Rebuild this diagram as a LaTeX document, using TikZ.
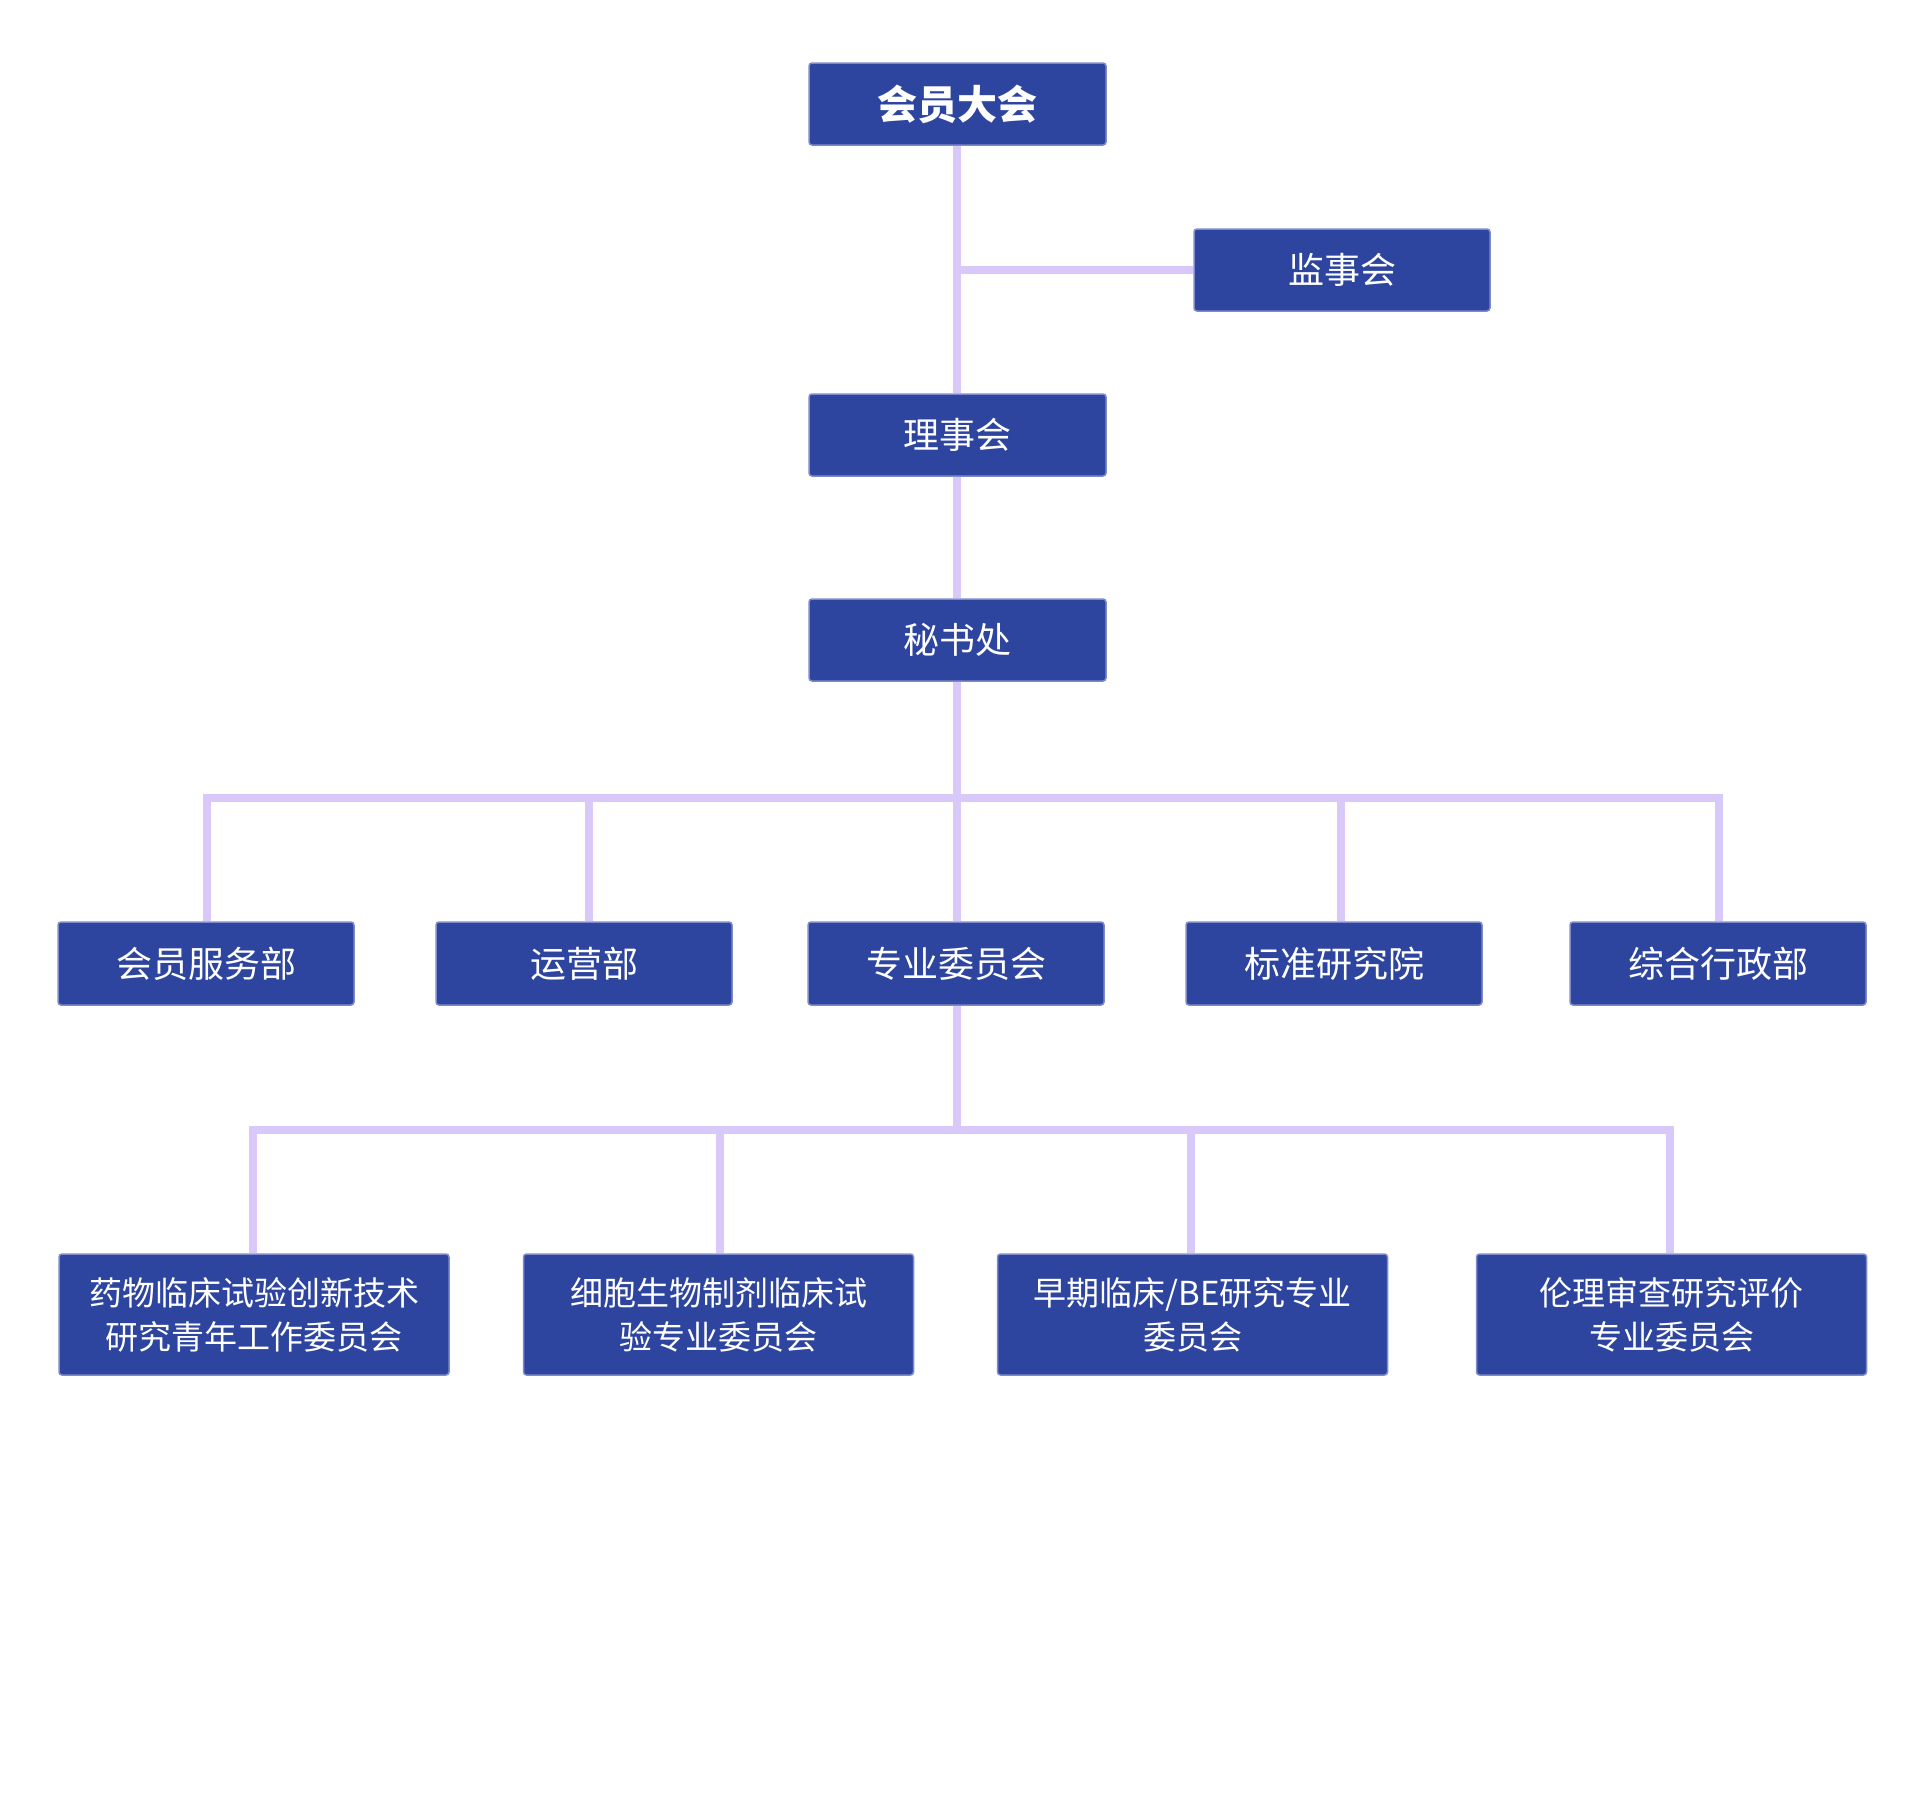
\documentclass[tikz,border=0pt]{standalone}
\usepackage{fontspec}
\setmainfont{Noto Sans CJK SC}
\definecolor{boxblue}{HTML}{2E45A0}
\definecolor{boxedge}{HTML}{7F8BC9}
\definecolor{linkc}{HTML}{D9C8FA}
\tikzset{
  orgbox/.style={draw=boxedge, line width=1.5pt, fill=boxblue, rounded corners=3pt,
    text=white, align=center, inner sep=0pt, font=\fontsize{36}{44}\selectfont},
  midbox/.style={orgbox, minimum width=296pt, minimum height=82pt},
  lowbox/.style={orgbox, minimum width=390pt, minimum height=121pt, font=\fontsize{33}{44}\selectfont},
  link/.style={draw=linkc, line width=7.5pt, line join=miter}
}
\begin{document}
\begin{tikzpicture}[x=1pt,y=-1pt]
\useasboundingbox (0,0) rectangle (1920,1792);
% nodes
\node[midbox, minimum width=297pt, font=\fontsize{40}{44}\selectfont\bfseries] (top) at (957.5,104) {会员大会};
\node[midbox] (jsh) at (1342,270) {监事会};
\node[midbox, minimum width=297pt] (lsh) at (957.5,435) {理事会};
\node[midbox, minimum width=297pt] (msc) at (957.5,640) {秘书处};
\node[midbox, minimum height=83pt] (hyfw) at (206,963.5) {会员服务部};
\node[midbox, minimum height=83pt] (yyb) at (584,963.5) {运营部};
\node[midbox, minimum height=83pt] (zywyh) at (956,963.5) {专业委员会};
\node[midbox, minimum height=83pt] (bzyjy) at (1334,963.5) {标准研究院};
\node[midbox, minimum height=83pt] (zhxzb) at (1718,963.5) {综合行政部};
\node[lowbox] (c1) at (254,1314.5) {药物临床试验创新技术\\研究青年工作委员会};
\node[lowbox] (c2) at (718.5,1314.5) {细胞生物制剂临床试\\验专业委员会};
\node[lowbox] (c3) at (1192.5,1314.5) {早期临床/BE研究专业\\委员会};
\node[lowbox] (c4) at (1671.5,1314.5) {伦理审查研究评价\\专业委员会};
% junctions
\coordinate (bus3) at (957,798);
\coordinate (bus4) at (957,1130);
% connectors
\draw[link] ([xshift=-0.5pt]top.south) -- ([xshift=-0.5pt]lsh.north);
\draw[link] ([xshift=-0.5pt]top.south |- jsh.west) -- (jsh.west);
\draw[link] ([xshift=-0.5pt]lsh.south) -- ([xshift=-0.5pt]msc.north);
\draw[link] ([xshift=-0.5pt]msc.south) -- ([xshift=1pt]zywyh.north);
\draw[link] (bus3) -| ([xshift=1pt]hyfw.north);
\draw[link] (bus3) -| ([xshift=5pt]yyb.north);
\draw[link] (bus3) -| ([xshift=7pt]bzyjy.north);
\draw[link] (bus3) -| ([xshift=1pt]zhxzb.north);
\draw[link] ([xshift=1pt]zywyh.south) -- (bus4);
\draw[link] (bus4) -| ([xshift=-1pt]c1.north);
\draw[link] (bus4) -| ([xshift=1.5pt]c2.north);
\draw[link] (bus4) -| ([xshift=-1.5pt]c3.north);
\draw[link] (bus4) -| ([xshift=-1.5pt]c4.north);
\end{tikzpicture}
\end{document}
